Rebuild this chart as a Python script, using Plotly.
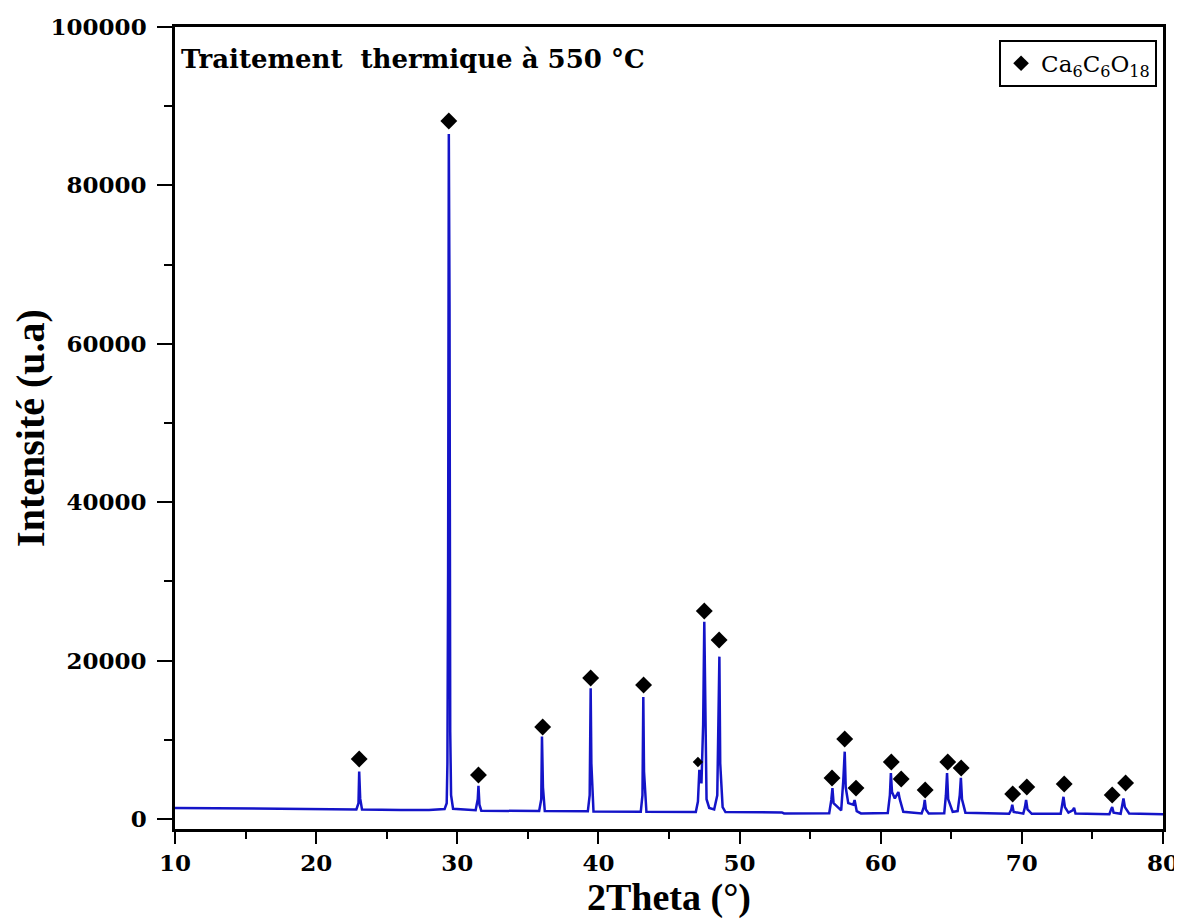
import plotly.graph_objects as go

# ---- XRD pattern (2θ in degrees, intensity in a.u.) ----
two_theta = [
    10.0, 12.0, 14.0, 16.0, 18.0, 20.0, 22.0, 22.85, 23.0, 23.05, 23.12, 23.25,
    26.0, 28.0, 29.1, 29.25, 29.3, 29.35, 29.4, 29.45, 29.5, 29.56, 29.7,
    31.3, 31.45, 31.5, 31.57, 31.7,
    35.8, 35.95, 36.0, 36.07, 36.2,
    39.25, 39.38, 39.45, 39.5, 39.65,
    43.0, 43.12, 43.18, 43.23, 43.4,
    46.9, 47.05, 47.15, 47.3, 47.42, 47.5, 47.56, 47.66, 47.85,
    48.2, 48.42, 48.5, 48.57, 48.63, 48.8, 49.0,
    53.0, 53.15,
    56.35, 56.5, 56.58, 56.66, 57.2, 57.35, 57.45, 57.52, 57.7,
    58.05, 58.15, 58.3, 58.6,
    60.5, 60.65, 60.72, 60.8, 61.0, 61.25, 61.35, 61.6,
    62.9, 63.05, 63.12, 63.2, 63.4,
    64.5, 64.62, 64.7, 64.78, 65.1,
    65.45, 65.6, 65.68, 65.76, 66.0,
    69.1, 69.25, 69.32, 69.42, 70.1, 70.22, 70.3, 70.4, 70.7,
    72.75, 72.87, 72.95, 73.05, 73.3, 73.6, 73.7, 73.8,
    76.2, 76.32, 76.4, 76.5, 77.0, 77.12, 77.2, 77.3, 77.6, 80.0,
]
intensity = [
    1400, 1380, 1350, 1320, 1280, 1250, 1220, 1210, 2000, 6000, 2600, 1200,
    1150, 1130, 1250, 2000, 7000, 31500, 86500, 65000, 11000, 3000, 1300,
    1100, 2500, 4200, 1800, 1050,
    1000, 2500, 10400, 4000, 1000,
    970, 3000, 16500, 7000, 950,
    920, 3000, 15400, 6000, 900,
    880, 2200, 6200, 4500, 12000, 24900, 13800, 2500, 1400,
    1200, 3000, 10200, 20500, 7000, 1500, 880,
    830, 700,
    720, 2400, 3900, 2000, 1100, 4900, 8500, 4000, 2000,
    1800, 2400, 1000, 700,
    750, 3000, 5800, 3400, 2600, 3400, 2500, 900,
    700, 1500, 2400, 1200, 700,
    720, 3000, 5800, 2500, 900,
    1000, 3000, 5200, 2500, 800,
    650, 1200, 1800, 900, 680, 1500, 2400, 1200, 650,
    650, 1800, 2800, 1500, 800, 1100, 1400, 700,
    600, 1200, 1500, 800, 650, 1800, 2600, 1500, 700, 600,
]

# ---- Ca6C6O18 phase markers ----
marker_theta = [23.05, 29.4, 31.5, 36.05, 39.45, 43.2, 47.5, 48.55,
                56.55, 57.45, 58.25, 60.75, 61.45, 63.15, 64.75, 65.7,
                69.35, 70.35, 73.0, 76.4, 77.35]
marker_int = [7580, 88130, 5560, 11620, 17800, 16920, 26260, 22600,
              5180, 10100, 3900, 7200, 5050, 3660, 7200, 6440,
              3160, 4040, 4420, 3030, 4550]
small_marker_theta = [47.05]
small_marker_int = [7200]

x_ticks = [10, 20, 30, 40, 50, 60, 70, 80]
x_tick_labels = ["10", "20", "30", "40", "50", "60", "70", "80"]
y_ticks = [0, 20000, 40000, 60000, 80000, 100000]
y_tick_labels = ["0", "20000", "40000", "60000", "80000", "100000"]

line_blue = "#1414c8"
tick_font = dict(family="DejaVu Serif", size=23, color="black")

fig = go.Figure()
fig.add_trace(go.Scatter(
    x=two_theta, y=intensity, mode="lines",
    line=dict(color=line_blue, width=2.5), showlegend=False, hoverinfo="skip",
))
fig.add_trace(go.Scatter(
    x=marker_theta, y=marker_int, mode="markers",
    marker=dict(symbol="diamond", size=13, color="black"),
    name="Ca<sub>6</sub>C<sub>6</sub>O<sub>18</sub>",
))
fig.add_trace(go.Scatter(
    x=small_marker_theta, y=small_marker_int, mode="markers",
    marker=dict(symbol="diamond", size=8, color="black"),
    showlegend=False,
))

axis_common = dict(
    showline=True, linecolor="black", linewidth=2.5, mirror=True,
    ticks="outside", tickcolor="black", tickwidth=2, showgrid=False,
    zeroline=False, tickfont=tick_font, automargin=False,
)
fig.update_xaxes(
    range=[10, 80], tickvals=x_ticks,
    ticktext=["<b>%s</b>" % t for t in x_tick_labels], ticklen=12,
    minor=dict(dtick=5, ticks="outside", ticklen=7, tickwidth=2, tickcolor="black"),
    title=dict(text="<b>2Theta (°)</b>",
               font=dict(family="Liberation Serif", size=38, color="black"),
               standoff=6),
    **axis_common,
)
fig.update_yaxes(
    range=[-1263, 100000], tickvals=y_ticks,
    ticktext=["<b>%s</b>" % t for t in y_tick_labels], ticklen=15,
    minor=dict(dtick=10000, ticks="outside", ticklen=8, tickwidth=2, tickcolor="black"),
    title=dict(text="<b>Intensité (u.a)</b>",
               font=dict(family="Liberation Serif", size=40, color="black"),
               standoff=14),
    ticklabelstandoff=6,
    **axis_common,
)

fig.add_annotation(
    x=0.004, y=0.96, xref="paper", yref="paper", xanchor="left", yanchor="middle",
    text="<b>Traitement\u00a0 thermique à 550 °C</b>", showarrow=False,
    font=dict(family="DejaVu Serif", size=26, color="black"),
)

# the page body has an 8 px margin, so the figure is 8 px smaller than the window
fig.update_layout(
    width=1174, height=916,
    margin=dict(l=167, r=19, t=19, b=95, autoexpand=False),
    plot_bgcolor="white", paper_bgcolor="white",
    legend=dict(
        x=0.994, y=0.984, xanchor="right", yanchor="top",
        bordercolor="black", borderwidth=2, bgcolor="white",
        font=dict(family="DejaVu Serif", size=23, color="black"),
        itemsizing="constant",
    ),
)

fig.write_html("out.html")
